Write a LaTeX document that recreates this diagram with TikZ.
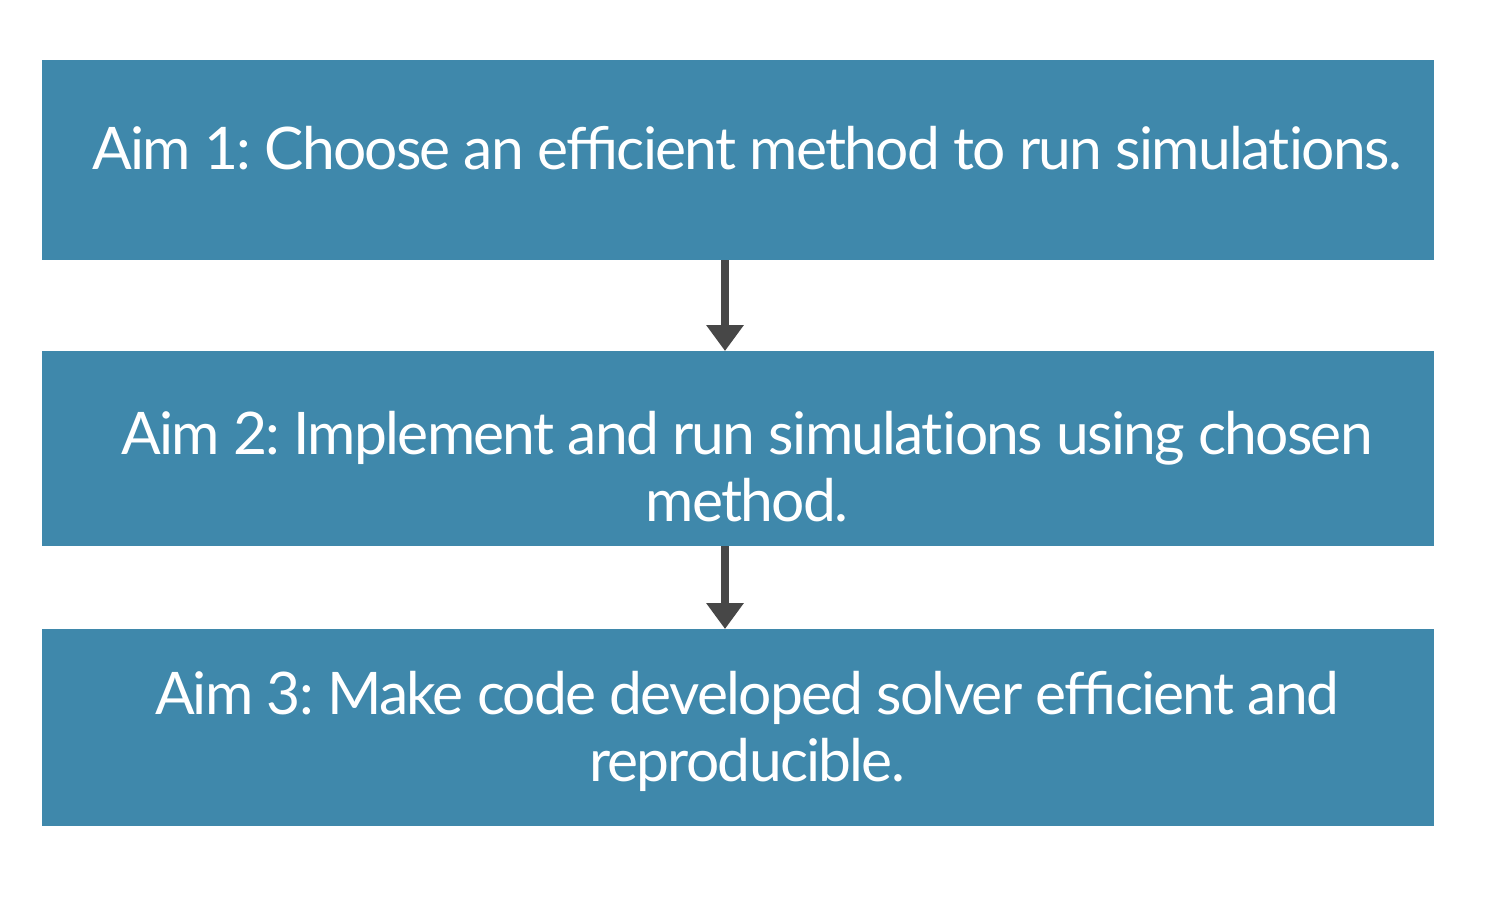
\documentclass[tikz,border=0pt]{standalone}
\usepackage{fontspec}
\setmainfont{Lato}[LetterSpace=-3]
\usetikzlibrary{arrows.meta}
\definecolor{boxblue}{HTML}{3F88AB}
\definecolor{arrowgray}{HTML}{474747}
\newcommand{\noti}{t\kern0pt i}
\tikzset{
  aimbox/.style={fill=boxblue, draw=none, inner sep=0pt},
  aimtext/.style={text=white, align=center, inner sep=0pt, font=\fontsize{16.7}{19.1}\selectfont\frenchspacing},
  flow/.style={arrowgray, line width=0.08cm, -{Triangle[width=0.36cm,length=0.26cm]}, shorten >=0pt}
}
\begin{document}
\begin{tikzpicture}[x=0.01cm,y=-0.01cm]
\useasboundingbox (0,0) rectangle (1500,902);
\fill[white] (0,0) rectangle (1500,902);
\node[aimbox, minimum width=13.92cm, minimum height=2.00cm] (b1) at (738,160) {};
\node[aimbox, minimum width=13.92cm, minimum height=1.95cm] (b2) at (738,448.5) {};
\node[aimbox, minimum width=13.92cm, minimum height=1.97cm] (b3) at (738,727.5) {};
\node[aimtext] (t1) at (747,148) {Aim 1: Choose an efficient method to run simula\noti ons.};
\node[aimtext] (t2) at (747,467) {Aim 2: Implement and run simula\noti ons using chosen\\method.};
\node[aimtext] (t3) at (747,731) {Aim 3: Make code developed solver efficient and\\reproducible.};
\coordinate (a1s) at (725,260);
\coordinate (a1e) at (725,351);
\coordinate (a2s) at (725,546);
\coordinate (a2e) at (725,629);
\draw[flow] (a1s) -- (a1e);
\draw[flow] (a2s) -- (a2e);
\end{tikzpicture}
\end{document}
